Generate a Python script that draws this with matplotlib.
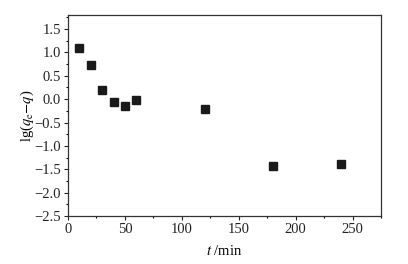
import matplotlib
matplotlib.use("Agg")
import matplotlib.pyplot as plt
from matplotlib.ticker import MultipleLocator

t_min = [10, 20, 30, 40, 50, 60, 120, 180, 240]
lg_val = [1.10, 0.73, 0.19, -0.07, -0.14, -0.01, -0.21, -1.43, -1.39]

plt.rcParams['font.family'] = ['Liberation Serif', 'DejaVu Serif']
plt.rcParams['mathtext.fontset'] = 'stix'

fig = plt.figure(figsize=(4.08, 2.64), dpi=100)
ax = fig.add_axes([68/408, 1 - 216/264, (381-68)/408, (216-15)/264])
ax.plot(t_min, lg_val, linestyle='none', marker='s', color='#1a1a1a', markersize=5.5)
ax.set_xlim(0, 275)
ax.set_ylim(-2.5, 1.8)
ax.xaxis.set_major_locator(MultipleLocator(50))
ax.xaxis.set_minor_locator(MultipleLocator(25))
ax.yaxis.set_minor_locator(MultipleLocator(0.25))
ax.set_yticks([1.5, 1.0, 0.5, 0.0, -0.5, -1.0, -1.5, -2.0, -2.5])
ax.set_yticklabels(['1.5', '1.0', '0.5', '0.0', '\u22120.5', '\u22121.0', '\u22121.5', '\u22122.0', '\u22122.5'])
ax.tick_params(which='major', direction='out', length=3, width=0.8, labelsize=10.5, colors='#222222', pad=2)
ax.tick_params(which='minor', direction='out', length=1.5, width=0.8)
for s in ax.spines.values():
    s.set_linewidth(0.9)
    s.set_color('#333333')
ax.set_xlabel(r'$t$ /min', fontsize=10.5, labelpad=6)
ax.set_ylabel(r'lg($q_{\rm e}$$-$$q$)', fontsize=10.5, labelpad=-1)
fig.savefig('out.png', dpi=100)
